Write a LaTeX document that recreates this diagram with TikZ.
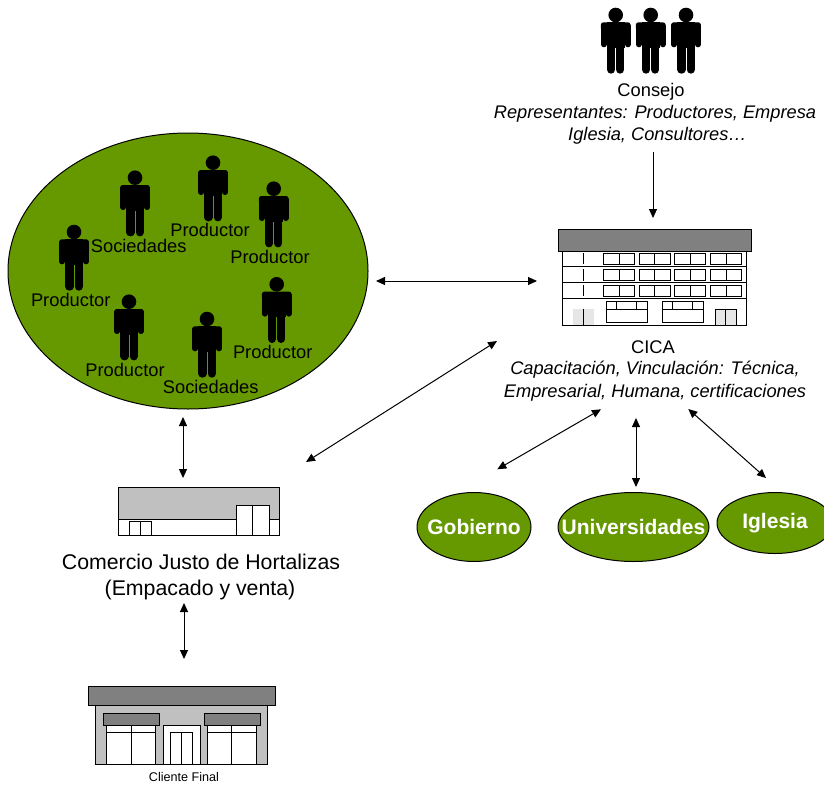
\documentclass[tikz,border=0pt]{standalone}
\usepackage{fontspec}
\setmainfont{Liberation Sans}
\usetikzlibrary{arrows.meta,shapes.geometric}
\definecolor{leaf}{HTML}{669900}
\definecolor{darkgrey}{HTML}{808080}
\definecolor{midgrey}{HTML}{C0C0C0}
\definecolor{palegrey}{HTML}{E6E6E6}
\tikzset{
  person/.pic={
    \fill[black] (0,0) circle (7.3);
    \fill[black,rounded corners=2.5] (-14.8,7.3) rectangle (14.8,16);
    \draw[black,line width=5.6,line cap=round] (-12,11) -- (-12,29.5);
    \draw[black,line width=5.6,line cap=round] (12,11) -- (12,29.5);
    \fill[black] (-8.8,7.3) rectangle (8.8,33);
    \draw[black,line width=8.2,line cap=round] (-4.6,28) -- (-4.6,54.6);
    \draw[black,line width=8.2,line cap=round] (4.6,28) -- (4.6,54.6);
  },
  twoway/.style={line width=1,{Triangle[length=9,width=8]}-{Triangle[length=9,width=8]}},
  oneway/.style={line width=1,-{Triangle[length=9,width=8]}},
  plan/.style={draw=black,line width=1},
  lbl/.style={inner sep=0,font=\fontsize{18.3}{20}\selectfont},
  lblit/.style={inner sep=0,font=\fontsize{18.25}{20}\selectfont\itshape},
  big/.style={inner sep=0,font=\fontsize{21.3}{24}\selectfont},
  tiny/.style={inner sep=0,font=\fontsize{12.6}{14}\selectfont},
  blob/.style={ellipse,draw=black,line width=1,fill=leaf,inner xsep=-40pt,inner ysep=-12pt,text=white,font=\fontsize{21}{24}\selectfont\bfseries},
}
\begin{document}
\begin{tikzpicture}[x=1pt,y=-1pt]
\clip (0,0) rectangle (824,784);
% Consejo
\pic at (615.7,15) {person};
\pic at (650.7,15) {person};
\pic at (686,15) {person};
\node[lbl] (consejo) at (651,92) {Consejo};
\node[lblit] (rep1) at (655,114) {Representantes: Productores, Empresa};
\node[lblit] (rep2) at (657.5,136) {Iglesia, Consultores…};
% Producers ellipse
\node[ellipse,draw=black,line width=1,fill=leaf,minimum width=360,minimum height=276,inner sep=0] (group) at (188,271) {};
\pic at (135,177.7) {person};
\pic at (213,162.7) {person};
\pic at (273.7,188.7) {person};
\pic at (74,232) {person};
\pic at (129,301.7) {person};
\pic at (207,319) {person};
\pic at (276.7,284.3) {person};
\node[lbl] (s1) at (138.7,245.5) {Sociedades};
\node[lbl] (p1) at (210,230) {Productor};
\node[lbl] (p2) at (270,257) {Productor};
\node[lbl] (p3) at (70.7,300) {Productor};
\node[lbl] (p4) at (125,370) {Productor};
\node[lbl] (s2) at (210.7,387) {Sociedades};
\node[lbl] (p5) at (272.7,351.7) {Productor};
% CICA building
\draw[plan,fill=white] (562.7,251) rectangle (746.3,325.3);
\draw[plan,fill=darkgrey] (558,229.3) rectangle (751,251);
\draw[plan] (562.7,266.7) -- (746.3,266.7) (562.7,282.7) -- (746.3,282.7) (562.7,298.7) -- (746.3,298.7);
\foreach \ya/\yb in {253.3/264.3,269.3/280.7,285.3/296.3}{
  \draw[plan] (583.3,\ya) -- (583.3,\yb);
  \foreach \xa/\xb in {603.3/634.7,639.3/670,674.7/705.7,710.3/741.7}{
    \draw[plan] (\xa,\ya) rectangle (\xb,\yb);
    \draw[plan] ({(\xa+\xb)/2},\ya) -- ({(\xa+\xb)/2},\yb);
  }
}
\foreach \xa in {606.3,662.3}{
  \draw[plan] (\xa,301.3) rectangle (\xa+41,322.7);
  \draw[plan] (\xa,309.3) -- (\xa+41,309.3);
  \draw[plan] (\xa+10.4,301.3) -- (\xa+10.4,309.3) (\xa+30.4,301.3) -- (\xa+30.4,309.3);
}
\fill[palegrey] (573.3,309.3) rectangle (594,324.8);
\draw[plan] (583.3,309.3) -- (583.3,325.3);
\draw[plan,fill=palegrey] (715.7,309.3) rectangle (736,325.3);
\draw[plan] (725.7,309.3) -- (725.7,325.3);
\node[lbl] (cica) at (653,347) {CICA};
\node[lblit] (cap1) at (655,370) {Capacitación, Vinculación: Técnica,};
\node[lblit] (cap2) at (655,393) {Empresarial, Humana, certificaciones};
% Partner ellipses
\node[blob,minimum width=114,minimum height=69] (gob) at (474,527) {Gobierno};
\node[blob,minimum width=151,minimum height=69] (uni) at (633.5,527) {Universidades};
\node[blob,minimum width=116,minimum height=61] (igl) at (775,523) {Iglesia};
% Comercio shop
\draw[plan,fill=white] (118.3,519.3) rectangle (279.3,535);
\draw[plan,fill=midgrey] (118.3,487) rectangle (279.3,519.3);
\draw[plan,fill=white] (236.7,505.7) rectangle (269,535);
\draw[plan] (252.7,505.7) -- (252.7,535);
\draw[plan,fill=white] (129.3,521.7) rectangle (151.3,535);
\draw[plan] (140.3,521.7) -- (140.3,535);
\node[big] (com1) at (201,562) {Comercio Justo de Hortalizas};
\node[big] (com2) at (200,590) {(Empacado y venta)};
% Cliente shop
\draw[plan,fill=midgrey] (95.7,705.3) rectangle (267.3,764);
\draw[plan,fill=darkgrey] (88.3,686.7) rectangle (275,705.3);
\foreach \xa/\xb in {106.7/155.3,207.7/256}{
  \draw[plan,fill=white] (\xa,725) rectangle (\xb,764);
  \draw[plan] (\xa,732.3) -- (\xb,732.3);
  \draw[plan] ({(\xa+\xb)/2},725) -- ({(\xa+\xb)/2},764);
}
\draw[plan,fill=darkgrey] (103.3,713.3) rectangle (159.3,725);
\draw[plan,fill=darkgrey] (204,713.3) rectangle (260,725);
\draw[plan,fill=white] (163,725) rectangle (200.3,764);
\draw[plan] (170.3,764) -- (170.3,732.7) -- (192.7,732.7) -- (192.7,764);
\draw[plan] (181.5,732.7) -- (181.5,764);
\node[tiny] (cli) at (184,777) {Cliente Final};
% Connector ends
\coordinate (a1) at (653,152);
\coordinate (a2) at (653,218);
\coordinate (b1) at (376,281);
\coordinate (b2) at (537,281);
\coordinate (c1) at (306,462);
\coordinate (c2) at (497,341);
\coordinate (d1) at (183,417);
\coordinate (d2) at (183,478);
\coordinate (e1) at (184,603);
\coordinate (e2) at (184,659);
\coordinate (f1) at (497.3,469.3);
\coordinate (f2) at (601,409.3);
\coordinate (g1) at (636,418);
\coordinate (g2) at (636,487);
\coordinate (h1) at (688.3,409);
\coordinate (h2) at (766,478);
\draw[oneway] (a1) -- (a2);
\draw[twoway] (b1) -- (b2);
\draw[twoway] (c1) -- (c2);
\draw[twoway] (d1) -- (d2);
\draw[twoway] (e1) -- (e2);
\draw[twoway] (f1) -- (f2);
\draw[twoway] (g1) -- (g2);
\draw[twoway] (h1) -- (h2);
\end{tikzpicture}
\end{document}
